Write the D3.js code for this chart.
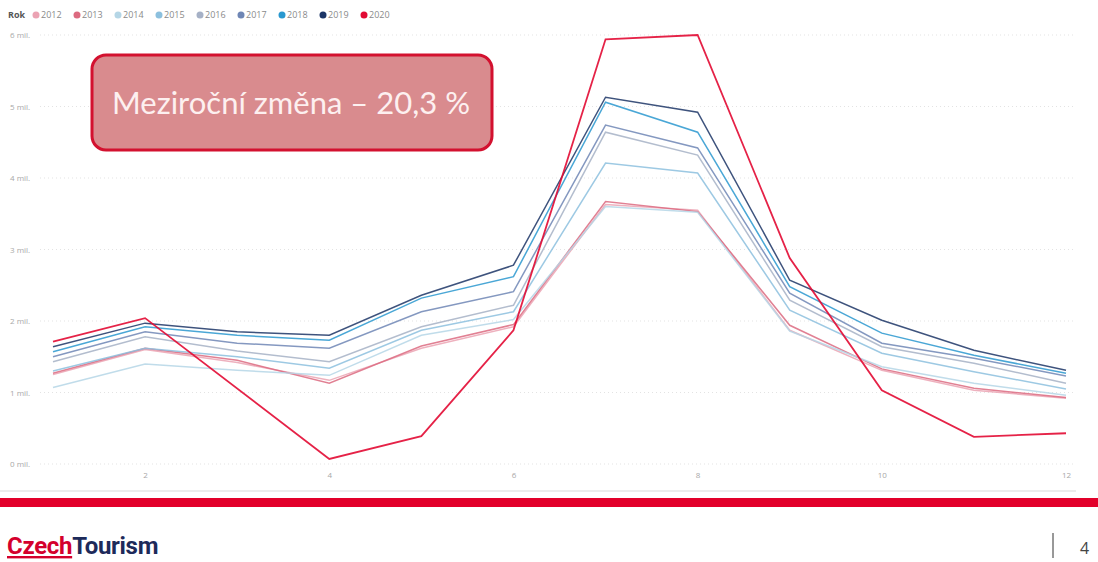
<!DOCTYPE html>
<html lang="cs">
<head>
    <meta charset="UTF-8">
    <title>Návštěvníci podle měsíců</title>
    <script src="https://d3js.org/d3.v7.min.js"></script>
    <style>
        body { margin: 0; background: #fff; }
    </style>
</head>
<body>
    <div id="chart"></div>
    <script>

    // měsíce a roky
    var months = [1, 2, 3, 4, 5, 6, 7, 8, 9, 10, 11, 12]
    var years = ["2012", "2013", "2014", "2015", "2016", "2017", "2018", "2019", "2020"]

    // hodnoty v mil.
    var v2012 = [1.25, 1.60, 1.42, 1.17, 1.62, 1.92, 3.63, 3.55, 1.87, 1.31, 1.03, 0.92]
    var v2013 = [1.27, 1.62, 1.45, 1.13, 1.65, 1.95, 3.67, 3.53, 1.94, 1.33, 1.06, 0.93]
    var v2014 = [1.07, 1.40, 1.31, 1.24, 1.80, 2.02, 3.60, 3.52, 1.86, 1.36, 1.13, 0.96]
    var v2015 = [1.30, 1.62, 1.50, 1.34, 1.87, 2.13, 4.21, 4.07, 2.15, 1.55, 1.29, 1.05]
    var v2016 = [1.43, 1.78, 1.58, 1.43, 1.92, 2.22, 4.64, 4.32, 2.29, 1.64, 1.41, 1.13]
    var v2017 = [1.50, 1.85, 1.69, 1.62, 2.13, 2.41, 4.74, 4.42, 2.39, 1.69, 1.48, 1.23]
    var v2018 = [1.57, 1.92, 1.80, 1.73, 2.32, 2.62, 5.06, 4.64, 2.48, 1.83, 1.52, 1.27]
    var v2019 = [1.64, 1.97, 1.85, 1.80, 2.36, 2.78, 5.13, 4.92, 2.57, 2.01, 1.59, 1.31]
    var v2020 = [1.71, 2.04, null, 0.07, 0.39, 1.87, 5.94, 6.00, 2.88, 1.03, 0.38, 0.43]

    var yTicks = [0, 1, 2, 3, 4, 5, 6]
    var xTicks = [2, 4, 6, 8, 10, 12]
    var note = "Meziroční změna – 20,3 %"

    var seriesValues = [v2012, v2013, v2014, v2015, v2016, v2017, v2018, v2019, v2020]
    var colors = ["#eba3b3", "#dc6a80", "#b5d6e6", "#8cc0de", "#a6b1c6", "#6f86b5", "#2a98cf", "#1c3566", "#e20a33"]

    var W = 1098, H = 562
    var svg = d3.select("#chart").append("svg")
        .attr("width", W)
        .attr("height", H)

    // scales
    var x = d3.scaleLinear().domain([1, 12]).range([53, 1066])
    var y = d3.scaleLinear().domain([0, 6]).range([464, 35])

    // gridlines (dotted)
    svg.append("g")
        .selectAll("line")
        .data(yTicks)
        .enter()
        .append("line")
            .attr("x1", 40)
            .attr("x2", 1076)
            .attr("y1", function(d) { return y(d) })
            .attr("y2", function(d) { return y(d) })
            .style("stroke", "#e3e3e3")
            .style("stroke-width", 1)
            .style("stroke-dasharray", "1,3")

    // y axis
    var yAxis = svg.append("g")
        .attr("transform", "translate(10,0)")
        .call(d3.axisRight(y).tickValues(yTicks).tickSize(0).tickFormat(function(d) { return d + " mil." }))
    yAxis.select(".domain").remove()
    yAxis.selectAll("text")
        .attr("x", 0)
        .style("font-family", "'Open Sans', sans-serif")
        .style("font-size", "8px")
        .style("fill", "#a8a8a8")

    // x axis
    var xAxis = svg.append("g")
        .attr("transform", "translate(0,470)")
        .call(d3.axisBottom(x).tickValues(xTicks).tickSize(0))
    xAxis.select(".domain").remove()
    xAxis.selectAll("text")
        .attr("dy", "0.6em")
        .style("font-family", "'Open Sans', sans-serif")
        .style("font-size", "8px")
        .style("fill", "#a8a8a8")

    // lines
    var line = d3.line()
        .x(function(d) { return x(d.m) })
        .y(function(d) { return y(d.v) })

    years.forEach(function(yr, i) {
        var pts = months.map(function(m, j) { return {m: m, v: seriesValues[i][j]} })
            .filter(function(d) { return d.v !== null })
        svg.append("path")
            .datum(pts)
            .attr("d", line)
            .style("fill", "none")
            .style("stroke", colors[i])
            .style("stroke-width", yr === "2020" ? 1.8 : 1.5)
            .style("stroke-linejoin", "miter")
            .style("opacity", yr === "2020" ? 0.9 : 0.85)
    })

    // legend
    var legend = svg.append("g").attr("transform", "translate(8,15)")
    legend.append("text")
        .attr("x", 0)
        .attr("y", 3)
        .text("Rok")
        .style("font-family", "'Open Sans', sans-serif")
        .style("font-size", "9px")
        .style("font-weight", "bold")
        .style("fill", "#555")
    var items = legend.selectAll(".item")
        .data(years)
        .enter()
        .append("g")
            .attr("transform", function(d, i) { return "translate(" + (28 + i * 41) + ",0)" })
    items.append("circle")
        .attr("r", 3.5)
        .attr("cx", 0)
        .attr("cy", 0)
        .style("fill", function(d, i) { return colors[i] })
    items.append("text")
        .attr("x", 5)
        .attr("y", 3)
        .text(function(d) { return d })
        .style("font-family", "'Open Sans', sans-serif")
        .style("font-size", "9px")
        .style("fill", "#8a8a8a")

    // annotation box
    svg.append("rect")
        .attr("x", 92)
        .attr("y", 55)
        .attr("width", 400)
        .attr("height", 95)
        .attr("rx", 14)
        .attr("ry", 14)
        .style("fill", "#d98b8e")
        .style("stroke", "#d3112f")
        .style("stroke-width", 3)
    svg.append("text")
        .attr("x", 291)
        .attr("y", 114)
        .attr("text-anchor", "middle")
        .text(note)
        .style("font-family", "Lato, 'Open Sans', sans-serif")
        .style("font-size", "31px")
        .style("fill", "#fdf0f0")

    // footer
    svg.append("line")
        .attr("x1", 0).attr("x2", 1076)
        .attr("y1", 491).attr("y2", 491)
        .style("stroke", "#ececec")
        .style("stroke-width", 2)
    svg.append("rect")
        .attr("x", 0).attr("y", 498)
        .attr("width", W).attr("height", 9)
        .style("fill", "#e2002a")

    var logo = svg.append("text")
        .attr("x", 7)
        .attr("y", 554)
        .style("font-family", "Roboto, sans-serif")
        .style("font-size", "24px")
        .style("font-weight", "bold")
        .style("letter-spacing", "-0.3px")
    logo.append("tspan").text("Czech").style("fill", "#d4002c").style("text-decoration", "underline")
    logo.append("tspan").text("Tourism").style("fill", "#1d2a5a")

    svg.append("line")
        .attr("x1", 1053).attr("x2", 1053)
        .attr("y1", 533).attr("y2", 558)
        .style("stroke", "#333")
        .style("stroke-width", 1)
    svg.append("text")
        .attr("x", 1080)
        .attr("y", 554)
        .text("4")
        .style("font-family", "'Open Sans', sans-serif")
        .style("font-size", "16px")
        .style("fill", "#444")

    </script>
</body>
</html>
